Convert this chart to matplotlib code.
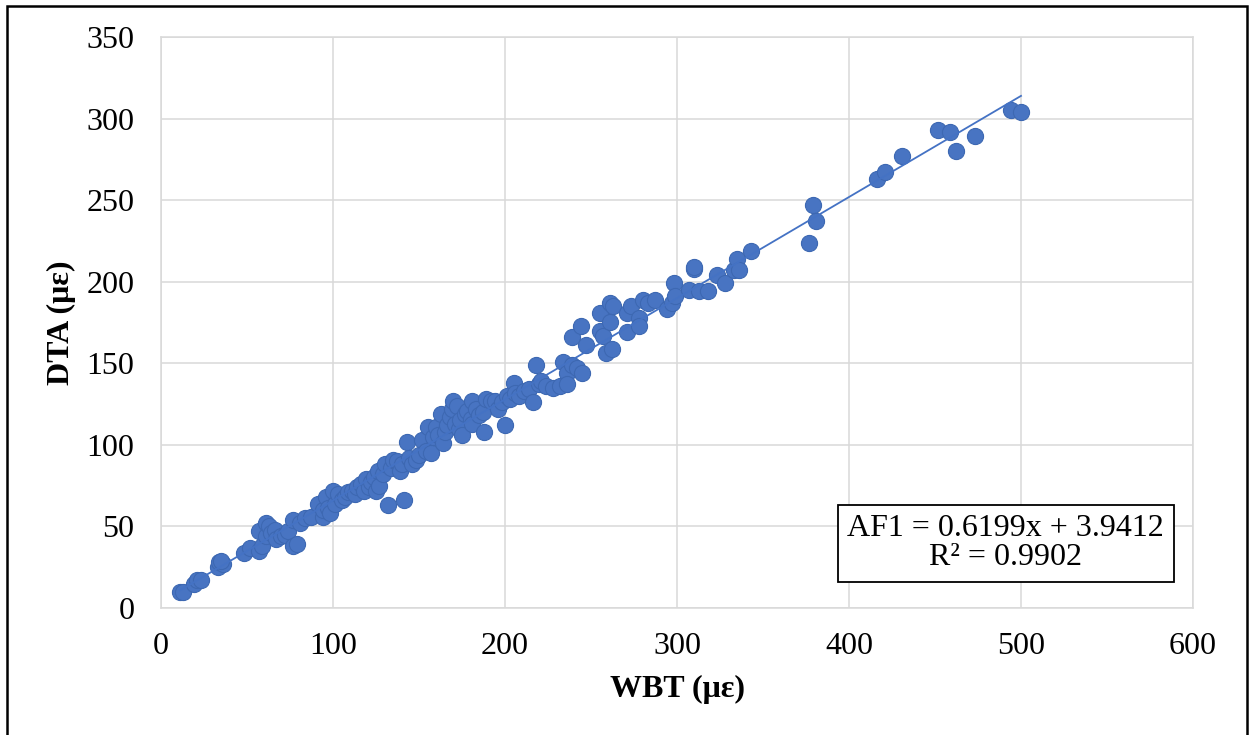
import numpy as np
import matplotlib.pyplot as plt
from matplotlib.patches import Rectangle

plt.rcParams['font.family'] = ['Liberation Serif', 'DejaVu Serif']

# WBT vs DTA strain readings (micro-strain)
wbt = [11, 13, 19, 21, 23, 33, 34, 36, 35, 48, 52, 57, 57, 59, 61, 61, 63, 64, 66, 67,
       70, 72, 74, 77, 79, 77, 81, 84, 87, 91, 94, 94, 96, 97, 98, 100, 101, 103, 105, 107,
       109, 111, 113, 114, 116, 118, 119, 121, 122, 124, 125, 126, 127, 129, 130, 132, 134, 135, 137, 139,
       140, 141, 143, 144, 146, 148, 150, 152, 154, 155, 157, 158, 160, 161, 163, 164, 165, 166, 168, 169,
       170, 171, 172, 173, 174, 175, 177, 178, 180, 181, 181, 183, 185, 187, 188, 189, 192, 194, 196, 198,
       200, 201, 203, 205, 206, 208, 211, 214, 216, 218, 220, 221, 224, 228, 232, 234, 236, 236, 239, 239,
       242, 244, 245, 247, 255, 255, 257, 259, 261, 261, 262, 263, 271, 271, 273, 278, 278, 280, 283, 287,
       294, 297, 298, 299, 307, 310, 310, 313, 318, 323, 328, 333, 335, 336, 343, 377, 379, 381, 416, 421,
       431, 452, 459, 462, 473, 494, 500]
dta = [9.5, 10, 15, 17, 17, 25, 28, 27, 29, 34, 37, 35, 47, 38, 52, 44, 50, 46, 48, 42,
       44, 45, 47, 38, 39, 54, 52, 55, 56, 64, 56, 60, 68, 61, 58, 72, 64, 70, 66, 68,
       71, 72, 70, 74, 76, 72, 79, 74, 77, 80, 72, 84, 75, 82, 88, 63, 86, 91, 90, 84,
       88, 66, 102, 92, 88, 91, 94, 103, 96, 111, 95, 105, 111, 106, 119, 101, 108, 112, 117, 122,
       127, 113, 124, 110, 115, 106, 119, 121, 116, 113, 127, 122, 118, 120, 108, 128, 127, 127, 122, 126,
       112, 130, 128, 138, 132, 130, 133, 134, 126, 149, 137, 139, 136, 135, 136, 151, 144, 137, 149, 166,
       147, 173, 144, 161, 181, 170, 167, 156, 175, 187, 159, 185, 169, 181, 185, 178, 173, 189, 187, 189,
       183, 187, 199, 191, 195, 208, 209, 194, 194, 204, 199, 207, 214, 207, 219, 224, 247, 237, 263, 267,
       277, 293, 292, 280, 289, 305, 304]

slope = 0.6199
intercept = 3.9412
r2 = 0.9902

fig = plt.figure(figsize=(12.5, 7.35), dpi=100)
ax = fig.add_axes([0.1288, 0.1728, 0.8256, 0.7769])

ax.scatter(wbt, dta, s=135, color='#4874C2', edgecolor='#3D68B2', linewidth=0.8, zorder=2)

# linear trendline over the data range
xs = np.array([min(wbt), max(wbt)])
ax.plot(xs, slope * xs + intercept, color='#4472C4', lw=1.3, zorder=3)

ax.set_xlim(0, 600)
ax.set_ylim(0, 350)
ax.set_xticks(np.arange(0, 601, 100))
ax.set_yticks(np.arange(0, 351, 50))
ax.grid(True, color='#D9D9D9', lw=1.1, zorder=0)
ax.set_axisbelow(True)
for sp in ax.spines.values():
    sp.set_color('#D9D9D9')
    sp.set_linewidth(1.1)
ax.tick_params(length=0, labelsize=23, colors='black')
ax.tick_params(axis='x', pad=17)
ax.tick_params(axis='y', pad=19)

ax.set_xlabel('WBT (με)', fontsize=23, fontweight='bold', labelpad=10)
ax.set_ylabel('DTA (με)', fontsize=23, fontweight='bold', labelpad=8)

ax.text(0.8185, 0.113, 'AF1 = %.4fx + %.4f\nR² = %.4f' % (slope, intercept, r2),
        transform=ax.transAxes, ha='center', va='center', fontsize=23,
        linespacing=1.0,
        bbox=dict(boxstyle='square,pad=0.3', fc='white', ec='black', lw=1.3), zorder=5)

# outer chart border
fig.patches.append(Rectangle((7 / 1250, -0.05), 1240 / 1250, 1 - 6 / 735 + 0.05,
                             transform=fig.transFigure, fill=False, ec='black', lw=1.8))

fig.savefig('out.png', dpi=100)
